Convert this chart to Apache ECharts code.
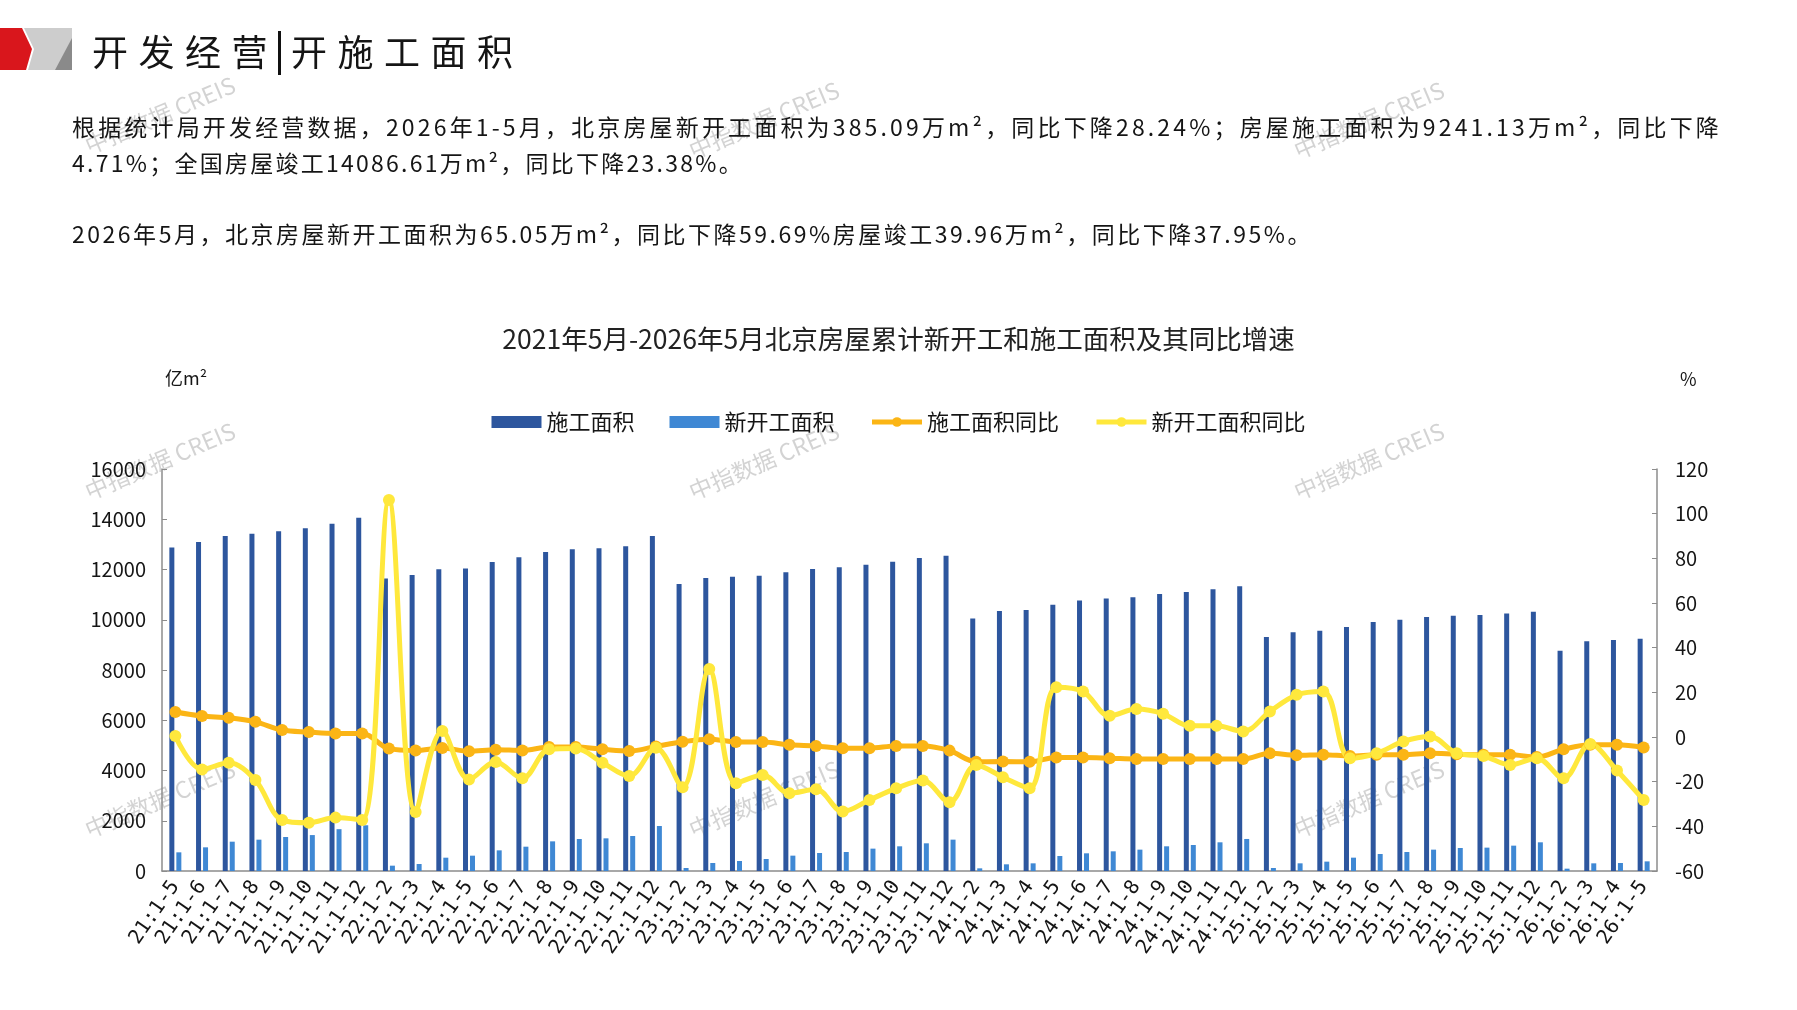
<!DOCTYPE html>
<html><head><meta charset="utf-8">
<script src="https://cdn.jsdelivr.net/npm/echarts@6/dist/echarts.min.js"></script>
<style>
html,body{margin:0;padding:0;background:#fff;width:1797px;height:1010px;overflow:hidden;}
#chart{position:absolute;left:0;top:0;width:1797px;height:1010px;}
.t{position:absolute;white-space:nowrap;font-family:"Noto Sans CJK SC","Noto Sans",sans-serif;color:#151515;line-height:1;}
</style></head><body>
<div id="chart"></div>
<svg style="position:absolute;left:0;top:28px" width="74" height="42" viewBox="0 0 74 42">
  <polygon points="24,0 72,0 72,42 28,42 34,21" fill="#cdcdcd"/>
  <polygon points="72,10 72,42 55,42" fill="#8a8a8a"/>
  <polygon points="0,0 22,0 32,21 26,42 0,42" fill="#d9161c"/>
</svg>
<div class="t" id="h1" style="left:92px;top:32px;font-size:36px;letter-spacing:10.5px;">开发经营<span style="display:inline-block;width:3px;height:44px;background:#111;vertical-align:middle;margin:-6px 10px 0 0;"></span>开施工面积</div>
<div class="t" id="p1" style="left:72px;top:115px;font-size:23px;">根据统计局开发经营数据，2026年1-5月，北京房屋新开工面积为385.09万m²，同比下降28.24%；房屋施工面积为9241.13万m²，同比下降</div>
<div class="t" id="p2" style="left:72px;top:151px;font-size:23px;">4.71%；全国房屋竣工14086.61万m²，同比下降23.38%。</div>
<div class="t" id="p3" style="left:72px;top:222px;font-size:23px;">2026年5月，北京房屋新开工面积为65.05万m²，同比下降59.69%房屋竣工39.96万m²，同比下降37.95%。</div>
<script>
// ---- data ----
const categories = [
  '21:1-5','21:1-6','21:1-7','21:1-8','21:1-9','21:1-10','21:1-11','21:1-12',
  '22:1-2','22:1-3','22:1-4','22:1-5','22:1-6','22:1-7','22:1-8','22:1-9','22:1-10','22:1-11','22:1-12',
  '23:1-2','23:1-3','23:1-4','23:1-5','23:1-6','23:1-7','23:1-8','23:1-9','23:1-10','23:1-11','23:1-12',
  '24:1-2','24:1-3','24:1-4','24:1-5','24:1-6','24:1-7','24:1-8','24:1-9','24:1-10','24:1-11','24:1-12',
  '25:1-2','25:1-3','25:1-4','25:1-5','25:1-6','25:1-7','25:1-8','25:1-9','25:1-10','25:1-11','25:1-12',
  '26:1-2','26:1-3','26:1-4','26:1-5'
];
const constructionArea = [
  12880, 13090, 13330, 13420, 13520, 13640, 13820, 14060,
  11640, 11780, 12010, 12040, 12300, 12490, 12700, 12810, 12850, 12930, 13330,
  11420, 11660, 11710, 11750, 11890, 12020, 12090, 12190, 12310, 12460, 12550,
  10050, 10350, 10390, 10600, 10770, 10850, 10900, 11020, 11100, 11210, 11330,
  9310, 9500, 9560, 9710, 9910, 10000, 10110, 10160, 10190, 10250, 10320,
  8770, 9140, 9190, 9241
];
const newStartArea = [
  743, 942, 1167, 1247, 1353, 1430, 1665, 1820,
  212, 279, 530, 610, 822, 968, 1180, 1273, 1300, 1393, 1790,
  120, 319, 398, 478, 611, 717, 757, 890, 983, 1102, 1248,
  106, 266, 305, 598, 704, 783, 850, 983, 1036, 1142, 1275,
  120, 305, 372, 531, 677, 757, 850, 916, 930, 1009, 1142,
  93, 305, 319, 385
];
const constructionYoY = [
  11.2, 9.4, 8.6, 6.8, 3.1, 2.2, 1.6, 1.6,
  -5.2, -6.0, -4.9, -6.4, -5.7, -6.0, -4.5, -4.5, -5.5, -6.3, -4.2,
  -2.1, -1.0, -2.2, -2.2, -3.5, -4.0, -5.0, -5.0, -4.0, -4.0, -6.1,
  -11.1, -11.0, -11.1, -9.2, -9.2, -9.5, -9.9, -9.9, -9.9, -9.9, -9.9,
  -7.3, -8.2, -7.9, -8.5, -8.0, -8.0, -7.3, -7.7, -8.0, -8.0, -9.0,
  -5.5, -3.5, -3.5, -4.71
];
const newStartYoY = [
  0.4, -14.5, -11.5, -19.3, -37.2, -38.4, -36.1, -37.2,
  106.1, -33.6, 2.7, -19.0, -11.2, -18.5, -5.5, -5.2, -11.5, -17.5, -4.8,
  -22.5, 30.4, -20.7, -17.0, -25.2, -23.4, -33.4, -28.2, -23.0, -19.5, -29.2,
  -12.5, -18.0, -23.0, 22.3, 20.4, 9.5, 12.5, 10.4, 5.0, 5.0, 2.5,
  11.4, 18.9, 20.4, -9.5, -7.3, -2.0, 0.2, -7.3, -8.5, -12.5, -9.5,
  -18.5, -3.1, -15.0, -28.24
];
const leftAxisRange = [0, 16000, 2000];
const rightAxisRange = [-60, 120, 20];
const seriesNames = ['施工面积', '新开工面积', '施工面积同比', '新开工面积同比'];
const chartTitle = '2021年5月-2026年5月北京房屋累计新开工和施工面积及其同比增速';
const watermarkText = '中指数据 CREIS';

// ---- header letter spacing fit ----
function fit(id, target) {
  const el = document.getElementById(id);
  el.style.letterSpacing = '0px';
  const w = el.getBoundingClientRect().width;
  const n = Array.from(el.textContent).length;
  el.style.letterSpacing = ((target - w) / n) + 'px';
}
function fitAll() { fit('p1', 1650); fit('p2', 672); fit('p3', 1241); }
fitAll();
if (document.fonts && document.fonts.ready) document.fonts.ready.then(fitAll);

// ---- chart ----
const FONT = '"Noto Sans CJK SC","Noto Sans",sans-serif';
const MONO = '"DejaVu Sans Mono","Liberation Mono",monospace';
const axisGray = '#8c8c8c';
const wmPos = [[160,115],[764,120],[1369,120],[160,461],[764,461],[1369,461],[160,799],[764,799],[1369,799]];
const graphics = wmPos.map(p => ({
  type: 'text', x: p[0], y: p[1], rotation: 23 * Math.PI / 180, z: 0,
  style: { text: watermarkText, fill: 'rgba(150,150,150,0.42)', font: '23px ' + FONT,
           align: 'center', verticalAlign: 'middle', textAlign: 'center', textVerticalAlign: 'middle' }
}));
graphics.push({ type: 'text', x: 165, y: 378, z: 5,
  style: { text: '亿m²', fill: '#151515', font: '18px ' + FONT, verticalAlign: 'middle', textVerticalAlign: 'middle' } });
graphics.push({ type: 'text', x: 1680, y: 379, z: 5,
  style: { text: '%', fill: '#151515', font: '18px ' + FONT, verticalAlign: 'middle', textVerticalAlign: 'middle' } });

const chart = echarts.init(document.getElementById('chart'), null, { renderer: 'canvas' });
chart.setOption({
  animation: false,
  backgroundColor: 'transparent',
  textStyle: { fontFamily: FONT },
  title: { text: chartTitle, left: 'center', top: 321,
    textStyle: { fontSize: 26.5, fontWeight: 'normal', color: '#222', fontFamily: FONT } },
  legend: {
    top: 406, left: 'center', itemWidth: 50, itemHeight: 12, itemGap: 35,
    textStyle: { fontSize: 22, color: '#151515', fontFamily: FONT },
    data: [
      { name: seriesNames[0], icon: 'rect' },
      { name: seriesNames[1], icon: 'rect' },
      { name: seriesNames[2], lineStyle: { width: 5 } },
      { name: seriesNames[3], lineStyle: { width: 5 } }
    ]
  },
  grid: { left: 162, right: 140, top: 469, bottom: 139, containLabel: false },
  xAxis: {
    type: 'category', data: categories,
    axisLine: { lineStyle: { color: axisGray, width: 1.5 } },
    axisTick: { inside: true, length: 4, lineStyle: { color: axisGray } },
    axisLabel: { rotate: 55, interval: 0, fontSize: 20, color: '#151515', margin: 12, fontFamily: MONO }
  },
  yAxis: [
    { type: 'value', min: leftAxisRange[0], max: leftAxisRange[1], interval: leftAxisRange[2],
      axisLine: { show: true, lineStyle: { color: axisGray, width: 1.5 } },
      axisTick: { show: true, inside: true, length: 5, lineStyle: { color: axisGray } },
      splitLine: { show: false },
      axisLabel: { fontSize: 20, color: '#151515', margin: 16, fontFamily: FONT, formatter: v => String(v) } },
    { type: 'value', position: 'right', min: rightAxisRange[0], max: rightAxisRange[1], interval: rightAxisRange[2],
      axisLine: { show: true, lineStyle: { color: axisGray, width: 1.5 } },
      axisTick: { show: true, inside: true, length: 5, lineStyle: { color: axisGray } },
      splitLine: { show: false },
      axisLabel: { fontSize: 20, color: '#151515', margin: 18, fontFamily: FONT, formatter: v => String(v) } }
  ],
  series: [
    { name: seriesNames[0], type: 'bar', data: constructionArea, barWidth: 5, barGap: '40%',
      itemStyle: { color: '#2d569e' } },
    { name: seriesNames[1], type: 'bar', data: newStartArea, barWidth: 5,
      itemStyle: { color: '#3f88d4' } },
    { name: seriesNames[2], type: 'line', yAxisIndex: 1, data: constructionYoY, smooth: 0.35,
      symbol: 'circle', symbolSize: 12, lineStyle: { width: 5, color: '#fbb515' },
      itemStyle: { color: '#fbb515' } },
    { name: seriesNames[3], type: 'line', yAxisIndex: 1, data: newStartYoY, smooth: 0.35,
      symbol: 'circle', symbolSize: 12, lineStyle: { width: 5, color: '#ffe83c' },
      itemStyle: { color: '#ffe83c' } }
  ],
  graphic: graphics
});
</script>
</body></html>
